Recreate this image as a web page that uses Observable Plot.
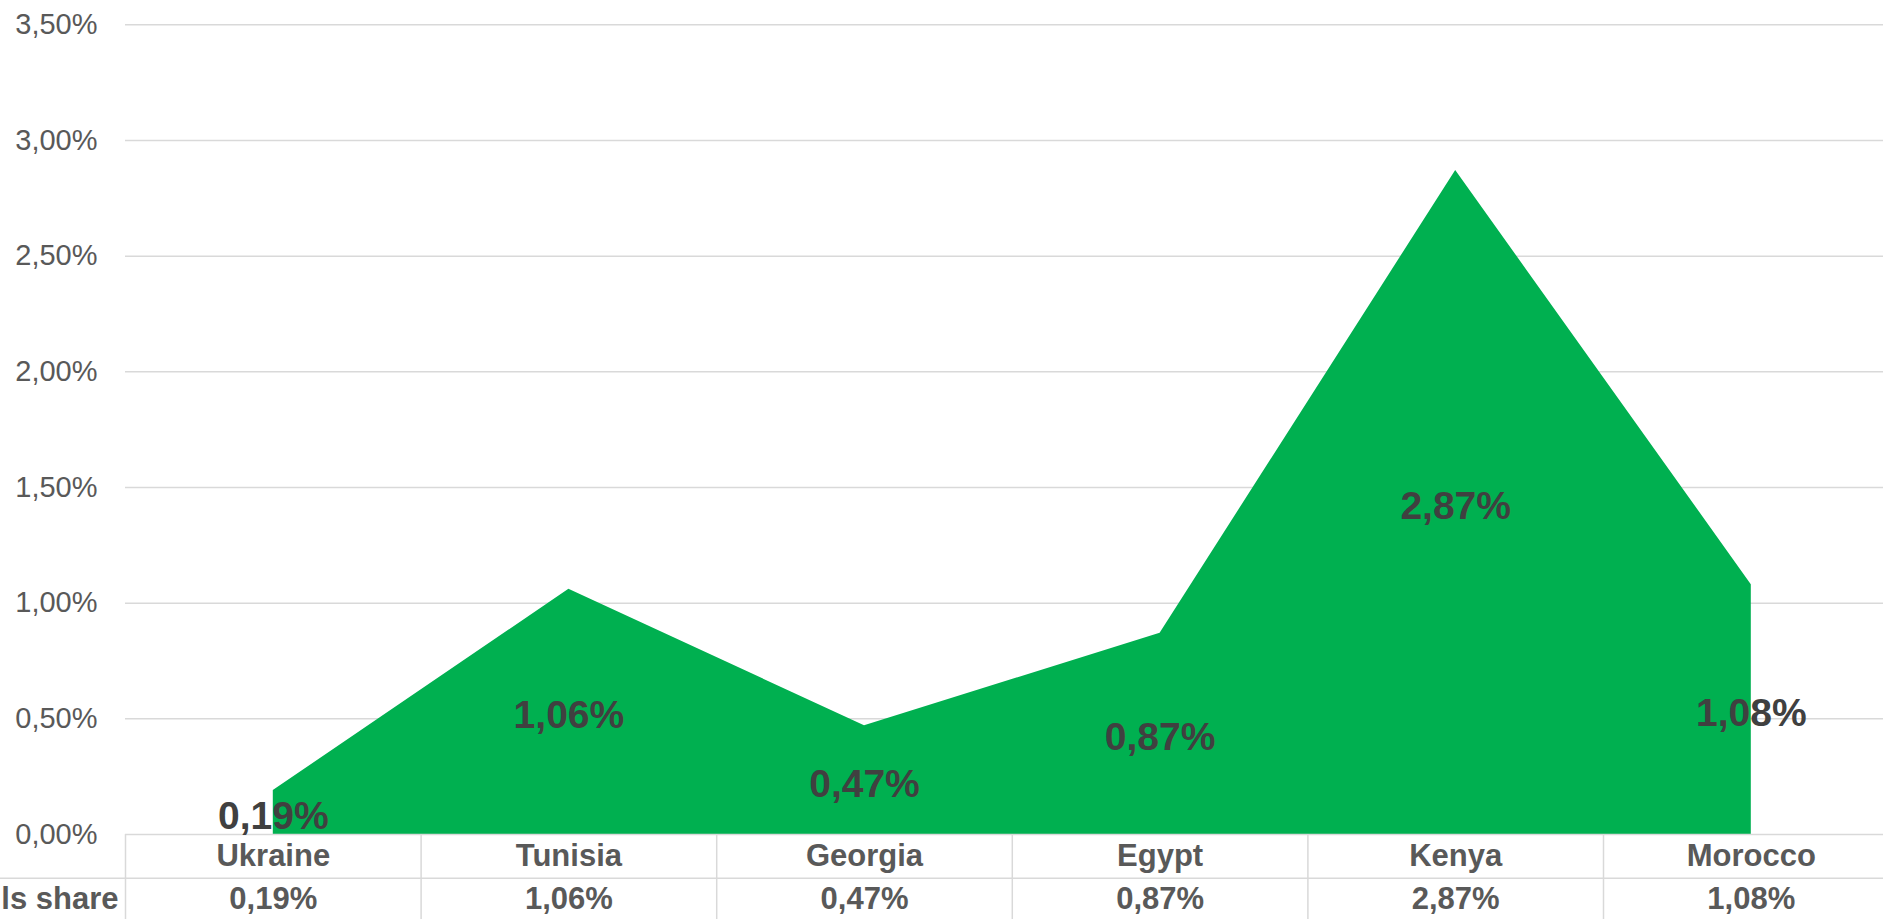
<!DOCTYPE html>
<html><head><meta charset="utf-8">
<script src="https://cdn.jsdelivr.net/npm/d3@7"></script>
<script src="https://cdn.jsdelivr.net/npm/@observablehq/plot@0.6"></script>
<style>html,body{margin:0;padding:0;background:#fff;overflow:hidden}svg{display:block}</style>
</head><body><div id="chart"></div>
<script>
const countries = ["Ukraine", "Tunisia", "Georgia", "Egypt", "Kenya", "Morocco"];
const shares = [0.19, 1.06, 0.47, 0.87, 2.87, 1.08];
const yTicks = [0, 0.5, 1, 1.5, 2, 2.5, 3, 3.5];
const rowHeader = "ls share";

const data = countries.map((c, i) => ({country: c, value: shares[i], pos: i + 0.5}));
const fmt = v => d3.format(".2f")(v).replace(".", ",") + "%";

const W = 1883, H = 919, leftPx = 125, topPx = 24.3, zeroPx = 834, colW = 295.6;
const k = (zeroPx - topPx) / 3.5;
const toVal = px => -(px - zeroPx) / k;
const toX = px => (px - leftPx) / colW;
const row1 = toVal(877.7), row2 = toVal(925);
const grid = "#d9d9d9";

const chart = Plot.plot({
  width: W, height: H,
  marginLeft: leftPx, marginRight: 0, marginTop: topPx, marginBottom: H - zeroPx,
  x: {type: "linear", domain: [0, countries.length], range: [leftPx, leftPx + countries.length * colW], axis: null},
  y: {domain: [0, 3.5], range: [zeroPx, topPx], axis: null},
  style: {fontFamily: "'Liberation Sans', Arial, sans-serif", color: "#595959", background: "#fff"},
  marks: [
    Plot.ruleY(yTicks.filter(t => t > 0), {y: d => d, stroke: grid, strokeWidth: 1.5}),
    Plot.areaY(data, {x: "pos", y: "value", fill: "#00B050", curve: "linear"}),
    Plot.ruleY([0], {y: d => d, stroke: grid, strokeWidth: 1.5}),
    Plot.ruleY([row1], {y: d => d, x1: () => toX(0), x2: () => toX(W), stroke: grid, strokeWidth: 1.5}),
    Plot.ruleX(d3.range(countries.length + 1), {x: d => d, y1: () => 0, y2: () => row2, stroke: grid, strokeWidth: 1.5}),
    Plot.axisY(yTicks, {tickFormat: fmt, tickSize: 0, tickPadding: 28, fontSize: 29, label: null}),
    Plot.text(data, {x: "pos", y: () => toVal(856), text: "country", fontSize: 31, fontWeight: "bold", fill: "#595959"}),
    Plot.text(data, {x: "pos", y: () => toVal(899), text: d => fmt(d.value), fontSize: 31, fontWeight: "bold", fill: "#595959"}),
    Plot.text([rowHeader], {x: () => toX(118), y: () => toVal(899), text: d => d, textAnchor: "end", fontSize: 31, fontWeight: "bold", fill: "#595959"}),
    Plot.text(data, {x: "pos", y: d => d.value / 2, dy: 4, text: d => fmt(d.value), fontSize: 39, fontWeight: "bold", fill: "#404040"})
  ]
});
document.getElementById("chart").appendChild(chart);
</script>
</body></html>
